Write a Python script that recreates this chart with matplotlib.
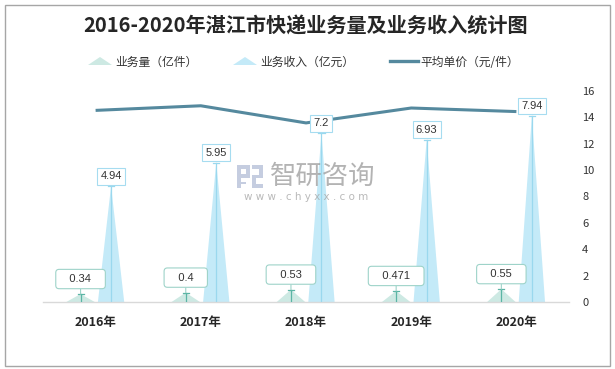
import matplotlib
matplotlib.use('Agg')
import matplotlib.pyplot as plt
from matplotlib.patches import Polygon, Rectangle
from matplotlib.lines import Line2D

plt.rcParams['font.family'] = ['Noto Sans CJK SC', 'DejaVu Sans']

# ---------------- data ----------------
years = ['2016年', '2017年', '2018年', '2019年', '2020年']
volume = [0.34, 0.4, 0.53, 0.471, 0.55]          # 业务量（亿件）
revenue = [4.94, 5.95, 7.2, 6.93, 7.94]          # 业务收入（亿元）
unit_price = [14.53, 14.88, 13.58, 14.71, 14.44]  # 平均单价（元/件）
right_ticks = [0, 2, 4, 6, 8, 10, 12, 14, 16]

title = '2016-2020年湛江市快递业务量及业务收入统计图'
legend_names = ['业务量（亿件）', '业务收入（亿元）', '平均单价（元/件）']

# ---------------- style ----------------
W, H = 615, 369
C_VOL = '#cde9e3'
C_VOL_LINE = '#5bb5a5'
C_VOL_BOX = '#9ed3c9'
C_REV = '#c4eaf8'
C_REV_LINE = '#9ad8ee'
C_REV_BOX = '#a6dcf0'
C_AVG = '#55899e'
TXT = '#333333'

def fx(px):
    return px / W

def fy(py):
    return 1 - py / H

fig = plt.figure(figsize=(W / 100, H / 100), dpi=100)
fig.patch.set_facecolor('white')

ax = fig.add_axes([fx(43), fy(302), fx(569 - 43), (302 - 91) / H])
ax2 = ax.twinx()
ax.set_xlim(-0.5, len(years) - 0.5)
ax.set_ylim(0, 9)
ax2.set_ylim(0, 16)

off_vol, w_vol = -0.143, 0.27
off_rev, w_rev = 0.147, 0.25
cap = 0.029

for i, (v, r) in enumerate(zip(volume, revenue)):
    # volume triangle
    xv = i + off_vol
    ax.add_patch(Polygon([(xv - w_vol / 2, 0), (xv, v), (xv + w_vol / 2, 0)],
                         closed=True, fc=C_VOL, ec='none', zorder=2))
    ax.plot([xv, xv], [0, v], color=C_VOL_LINE, lw=0.9, zorder=3)
    ax.plot([xv - cap, xv + cap], [v, v], color=C_VOL_LINE, lw=0.9, zorder=3)
    # revenue triangle
    xr = i + off_rev
    ax.add_patch(Polygon([(xr - w_rev / 2, 0), (xr, r), (xr + w_rev / 2, 0)],
                         closed=True, fc=C_REV, ec='none', zorder=2))
    ax.plot([xr, xr], [0, r], color=C_REV_LINE, lw=0.9, zorder=3)
    ax.plot([xr - cap, xr + cap], [r, r], color=C_REV_LINE, lw=0.9, zorder=3)

# average price line
ax2.plot(range(len(years)), unit_price, color=C_AVG, lw=2.2, zorder=2,
         solid_capstyle='butt')

# labels (on ax2 so they sit above the line)
for i, (v, r) in enumerate(zip(volume, revenue)):
    ax2.annotate(f'{r:g}', xy=(i + off_rev, r), xycoords=ax.transData,
                 xytext=(0, 5), textcoords='offset pixels',
                 ha='center', va='bottom', fontsize=8, color=TXT,
                 family=['Liberation Sans'],
                 bbox=dict(boxstyle='square,pad=0.3', fc='white', ec=C_REV_BOX, lw=0.8),
                 zorder=6)
    ax2.annotate(f'   {v:g}   ', xy=(i + off_vol, v), xycoords=ax.transData,
                 xytext=(0, 15), textcoords='offset pixels',
                 ha='center', va='center', fontsize=8, color=TXT,
                 family=['Liberation Sans'],
                 bbox=dict(boxstyle='round,pad=0.42,rounding_size=0.3', fc='white',
                           ec=C_VOL_BOX, lw=0.8),
                 arrowprops=dict(arrowstyle='-', color=C_VOL_BOX, lw=0.8,
                                 shrinkA=0, shrinkB=0),
                 zorder=6)

# axes styling
ax.set_xticks(range(len(years)))
ax.set_xticklabels(years, fontsize=9, fontweight='bold', color='#262626')
ax.tick_params(axis='x', length=0, pad=10)
ax.set_yticks([])
for s in ['left', 'right', 'top']:
    ax.spines[s].set_visible(False)
ax.spines['bottom'].set_color('#d9d9d9')
ax.spines['bottom'].set_linewidth(1)
for s in ax2.spines.values():
    s.set_visible(False)
ax2.set_yticks(right_ticks)
ax2.set_yticklabels([str(t) for t in right_ticks])
ax2.tick_params(axis='y', length=0, pad=9.5, labelsize=8, labelcolor=TXT)

# title
fig.text(fx(306), fy(26), title, ha='center', va='center', fontsize=14.5,
         fontweight='bold', color='#262626')

# legend (manual)
fig.patches.append(Polygon([(fx(88), fy(65)), (fx(100), fy(57)), (fx(112), fy(65))],
                           closed=True, fc=C_VOL, ec='none', transform=fig.transFigure))
fig.text(fx(115), fy(62), legend_names[0], ha='left', va='center', fontsize=8.5, color=TXT)
fig.patches.append(Polygon([(fx(233), fy(65)), (fx(245), fy(57)), (fx(257), fy(65))],
                           closed=True, fc=C_REV, ec='none', transform=fig.transFigure))
fig.text(fx(260), fy(62), legend_names[1], ha='left', va='center', fontsize=8.5, color=TXT)
fig.lines.append(Line2D([fx(390), fx(418)], [fy(61), fy(61)], color=C_AVG, lw=2.4,
                        transform=fig.transFigure))
fig.text(fx(420), fy(62), legend_names[2], ha='left', va='center', fontsize=8.5, color=TXT)

# watermark
LOGO = '#c5cde0'
for (x0, y0, x1, y1) in [(237, 165, 241, 188), (237, 165, 250, 169), (241, 174, 250, 178),
                         (246, 165, 250, 178), (237, 182, 246, 184),
                         (252, 165, 263, 169), (259, 165, 263, 178), (252, 175, 263, 178),
                         (252, 175, 256, 188), (252, 184, 263, 188)]:
    fig.patches.append(Rectangle((fx(x0), fy(y1)), fx(x1 - x0), (y1 - y0) / H,
                                 fc=LOGO, ec='none', transform=fig.transFigure, zorder=4))
fig.text(fx(323), fy(176), '智研咨询', ha='center', va='center', fontsize=19,
         color='#9a9a9a', alpha=0.75, zorder=4)
fig.text(fx(306), fy(197), 'w w w . c h y x x . c o m', ha='center', va='center',
         fontsize=7.5, color='#a8a8a8', alpha=0.8, zorder=4, family=['DejaVu Sans'])

# border
fig.patches.append(Rectangle((fx(4.5), fy(365.5)), fx(605), 361 / H, fill=False,
                             ec='#a6a6a6', lw=1, transform=fig.transFigure))

fig.savefig('out.png', dpi=100, facecolor='white')
